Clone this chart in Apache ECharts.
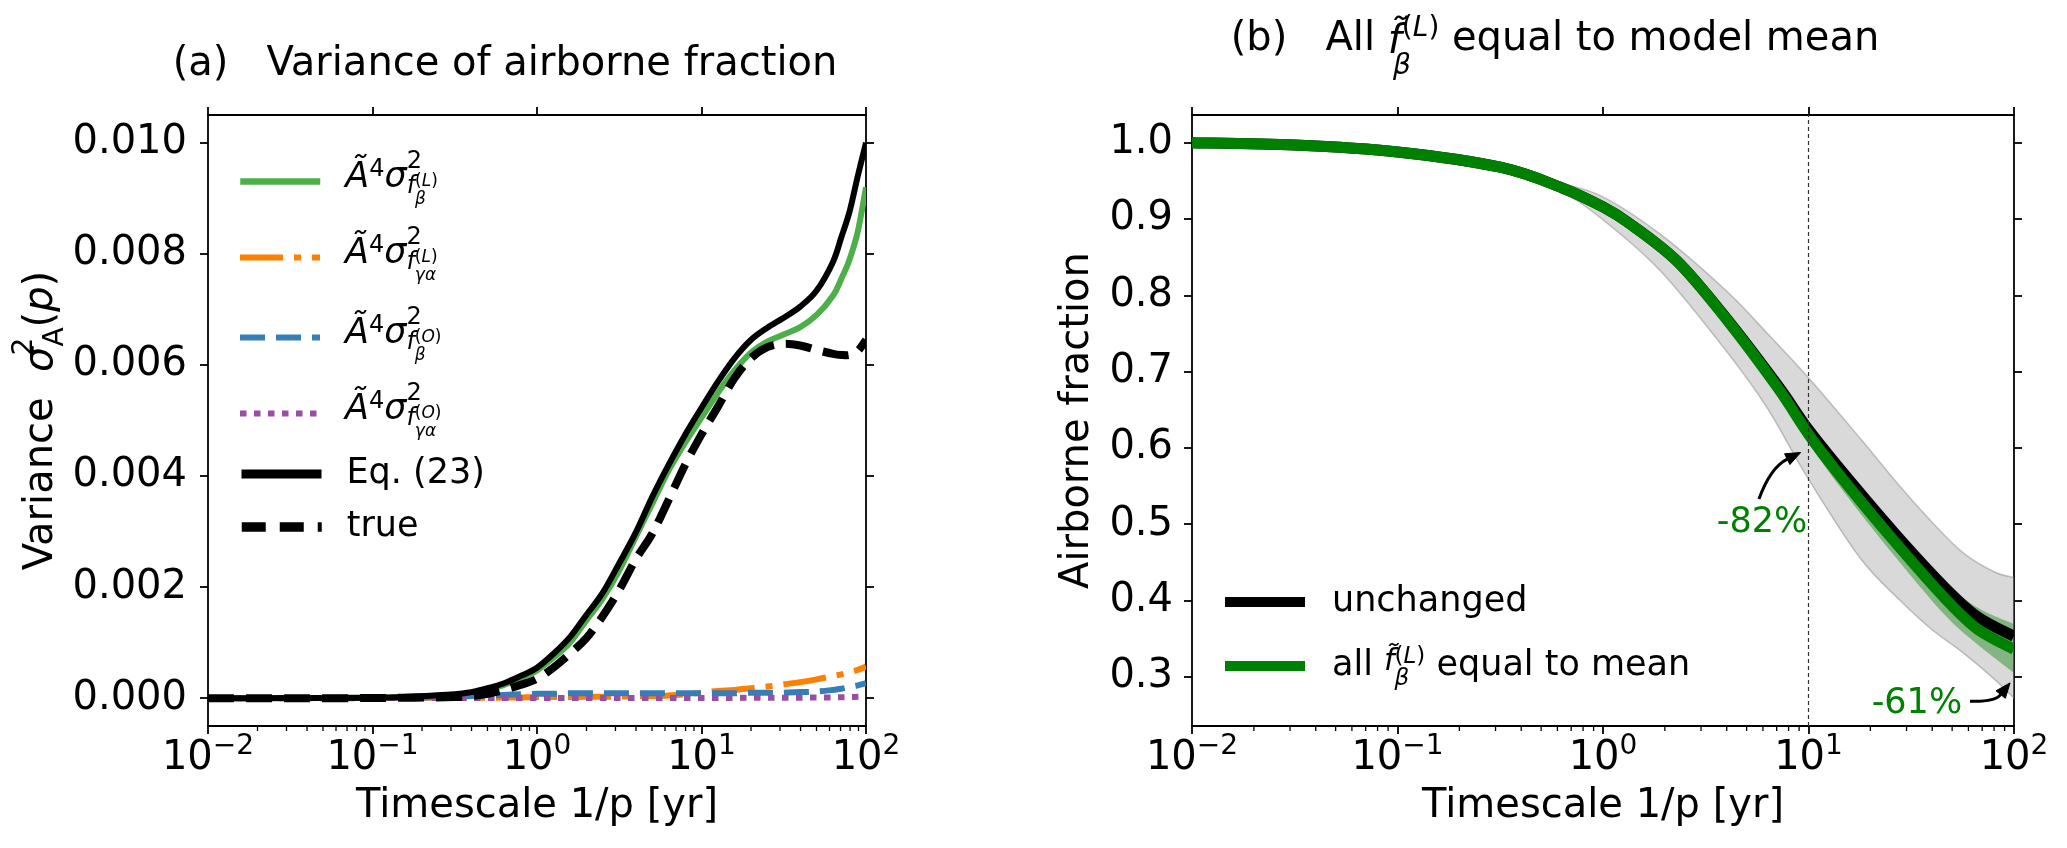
<!DOCTYPE html>
<html><head><meta charset="utf-8">
<script src="https://cdn.jsdelivr.net/npm/echarts@6/dist/echarts.min.js"></script>
<style>html,body{margin:0;padding:0;background:#fff}#c{width:2067px;height:848px}</style>
</head><body><div id="c"></div>
<script>
const FONT = 'DejaVu Sans';

// ---------- Panel (a): variance of airborne fraction ----------
const aLogX   = [-2, -1.5, -1, -0.75, -0.5, -0.4, -0.3, -0.2, -0.1, 0, 0.1, 0.2, 0.3, 0.4, 0.5, 0.6, 0.7, 0.8, 0.9, 1.0, 1.1, 1.2, 1.3, 1.4, 1.5, 1.6, 1.7, 1.8, 1.85, 1.9, 1.95, 2.0];
const aLbeta  = [0, 0.000002, 0.000008, 0.00003, 0.00006, 0.0001, 0.00016, 0.00024, 0.00036, 0.0005, 0.00073, 0.001, 0.0014, 0.0018, 0.0023, 0.0029, 0.0035, 0.0041, 0.0046, 0.00505, 0.0055, 0.0059, 0.00622, 0.00642, 0.00655, 0.00668, 0.0069, 0.00725, 0.00755, 0.0079, 0.0084, 0.0092];
const aLgamma = [0, 0.000003, 0.000005, 0.000008, 0.00001, 0.00001, 0.00001, 0.000012, 0.000015, 0.00002, 0.00002, 0.000022, 0.000025, 0.000028, 0.00003, 0.000035, 0.00004, 0.00005, 0.00007, 0.0001, 0.00013, 0.00015, 0.00018, 0.00021, 0.00025, 0.00029, 0.00034, 0.0004, 0.00043, 0.00047, 0.00051, 0.00057];
const aObeta  = [0, 0.000002, 0.000005, 0.00001, 0.00003, 0.00004, 0.00005, 0.00006, 0.00007, 0.00008, 0.00008, 0.00009, 0.00009, 0.00009, 0.00009, 0.00009, 0.00009, 0.00009, 0.00009, 0.00009, 0.00009, 0.00009, 0.0001, 0.0001, 0.0001, 0.00011, 0.00012, 0.00015, 0.00017, 0.0002, 0.00023, 0.00027];
const aOgamma = [0, 0, 0.000002, 0.000003, 0.000004, 0.000005, 0.000005, 0.000005, 0.000005, 0.000005, 0.000005, 0.000005, 0.000005, 0.000005, 0.000005, 0.000005, 0.000005, 0.000005, 0.000005, 0.000005, 0.000005, 0.000006, 0.000007, 0.000008, 0.000009, 0.00001, 0.000012, 0.000015, 0.000018, 0.00002, 0.000025, 0.00003];
const aEq23   = [0, 0.000002, 0.000008, 0.00003, 0.00007, 0.00011, 0.00018, 0.00027, 0.0004, 0.00055, 0.0008, 0.0011, 0.0015, 0.0019, 0.00243, 0.00298, 0.00362, 0.0042, 0.00474, 0.00523, 0.0057, 0.00612, 0.00645, 0.00667, 0.00685, 0.00705, 0.00734, 0.00786, 0.0083, 0.00876, 0.0094, 0.0100];
const aTrue   = [0, 0, 0.000003, 0.00001, 0.00002, 0.00004, 0.00008, 0.00015, 0.00024, 0.00035, 0.00055, 0.0008, 0.00108, 0.00148, 0.00195, 0.0025, 0.00296, 0.00357, 0.0042, 0.00475, 0.00525, 0.00576, 0.00612, 0.00632, 0.00638, 0.00635, 0.00627, 0.0062, 0.00618, 0.00618, 0.00625, 0.00645];
const aYTicks = [0, 0.002, 0.004, 0.006, 0.008, 0.010];

// ---------- Panel (b): airborne fraction ----------
const bLogX       = [-2, -1.5, -1, -0.5, -0.2, 0, 0.12, 0.36, 0.6, 0.85, 1.0, 1.17, 1.42, 1.66, 1.82, 2.0];
const bUnchanged  = [1.0, 0.997, 0.988, 0.968, 0.941, 0.916, 0.896, 0.845, 0.770, 0.682, 0.624, 0.567, 0.488, 0.418, 0.379, 0.353];
const bAllMean    = [1.0, 0.997, 0.988, 0.968, 0.941, 0.916, 0.896, 0.845, 0.769, 0.679, 0.618, 0.558, 0.477, 0.404, 0.363, 0.336];
const bAllMeanLo  = [1.0, 0.997, 0.988, 0.967, 0.940, 0.914, 0.893, 0.840, 0.762, 0.670, 0.606, 0.543, 0.458, 0.382, 0.343, 0.305];
const bAllMeanHi  = [1.0, 0.997, 0.988, 0.969, 0.942, 0.918, 0.899, 0.850, 0.776, 0.689, 0.630, 0.573, 0.496, 0.426, 0.391, 0.369];
const gLogX       = [-2, -1.5, -1, -0.5, -0.2, 0, 0.28, 0.6, 0.8, 1.0, 1.25, 1.45, 1.6, 1.75, 1.9, 2.0];
const gSpreadLo   = [1.0, 0.996, 0.987, 0.964, 0.935, 0.899, 0.832, 0.727, 0.652, 0.559, 0.456, 0.399, 0.362, 0.332, 0.298, 0.272];
const gSpreadHi   = [1.0, 0.997, 0.989, 0.971, 0.947, 0.929, 0.880, 0.806, 0.750, 0.692, 0.613, 0.548, 0.503, 0.463, 0.438, 0.430];
const bYTicks = [0.3, 0.4, 0.5, 0.6, 0.7, 0.8, 0.9, 1.0];
const vLineX = 10;
const annotations = [
  {label: '-82%', textX: 5.94, textY: 0.502, tailX: 5.74, tailY: 0.533, tipX: 9.16, tipY: 0.594, rad: 0.2},
  {label: '-61%', textX: 33.7, textY: 0.265, tailX: 61.1, tailY: 0.268, tipX: 95.7, tipY: 0.292, rad: -0.25}
];

const minorMult = [2, 3, 4, 5, 6, 7, 8, 9];
const minorDecades = [0.01, 0.1, 1, 10];
const minorTicks = [];
minorDecades.forEach(d => minorMult.forEach(m => minorTicks.push(m * d)));

const tok = (size, o) => Object.assign({fontSize: size, fontFamily: FONT, color: '#000', lineHeight: 50}, o || {});
const legRichA = {
  sp: tok(35, {width: 20}),
  n: tok(35),
  mi: tok(35, {fontStyle: 'italic', padding: [0, 0, 8, 0]}),
  s4: tok(24, {padding: [0, 0, 23, 0]}),
  s2: tok(24, {padding: [0, 0, 39, 0], width: 0}),
  sf: tok(24, {fontStyle: 'italic', padding: [10, 0, 0, 0]}),
  ssb: tok(17, {fontStyle: 'italic', padding: [37, 0, 0, 0], width: 0}),
  ssp: tok(17, {padding: [1, 0, 0, 0]}),
  sspi: tok(17, {fontStyle: 'italic', padding: [1, 0, 0, 0]})
};
const legRichB = {
  sp: tok(35, {width: 22}),
  n: tok(35),
  fi: tok(30, {fontStyle: 'italic', padding: [0, 0, 7, 0]}),
  bsb: tok(23, {fontStyle: 'italic', padding: [27, 0, 0, 0], width: 0}),
  bsp: tok(23, {padding: [0, 0, 17, 0]}),
  bspi: tok(23, {fontStyle: 'italic', padding: [0, 0, 17, 0]})
};
const mathA = (sub, sup) => '{sp| }{mi|Ã}{s4|4}{mi|σ}{s2|2}{sf|f}{ssb|' + sub + '}{ssp|(}{sspi|' + sup + '}{ssp|)}';
const legendText = {
  Lbeta: mathA('β', 'L'),
  Lgamma: mathA('γα', 'L'),
  Obeta: mathA('β', 'O'),
  Ogamma: mathA('γα', 'O'),
  Eq23: '{sp| }{n|Eq. (23)}',
  truev: '{sp| }{n|true}',
  unchanged: '{sp| }{n|unchanged}',
  allmean: '{sp| }{n|all }{fi|f̃}{bsb|β}{bsp|(}{bspi|L}{bsp|)}{n| equal to mean}'
};

function mkLegend(name, left, cy, color, width, type, rich) {
  return {
    data: [name], left: left, top: cy - 25, orient: 'horizontal', padding: 0,
    itemWidth: 80, itemHeight: 50, selectedMode: false,
    formatter: n => legendText[n],
    textStyle: {fontSize: 35, fontFamily: FONT, color: '#000', lineHeight: 50, rich: rich},
    itemStyle: {opacity: 0},
    lineStyle: {color: color, width: width, type: type, opacity: 1}
  };
}

const axisLineStyle = {color: '#000', width: 1.8};
const xLabel = {
  margin: 13, showMinLabel: true, showMaxLabel: true,
  formatter: v => { const e = Math.round(Math.log10(v)); return '{b|10}{s|' + (e < 0 ? '\u2212' + (-e) : e) + '}'; },
  rich: {
    b: {fontSize: 40, fontFamily: FONT, color: '#000', lineHeight: 40},
    s: {fontSize: 28, fontFamily: FONT, color: '#000', lineHeight: 40, padding: [0, 0, 25, 0]}
  }
};
function xAxes(gi) {
  return [
    {gridIndex: gi, type: 'log', logBase: 10, min: 0.01, max: 100, position: 'bottom',
     axisLine: {show: true, onZero: false, lineStyle: axisLineStyle},
     axisTick: {show: true, inside: false, length: 8, lineStyle: {color: '#000', width: 1.8}},
     axisLabel: xLabel, splitLine: {show: false},
     name: 'Timescale 1/p [yr]', nameLocation: 'middle', nameGap: 61, nameMoveOverlap: false,
     nameTextStyle: {fontSize: 40, fontFamily: FONT, color: '#000', lineHeight: 40}},
    {gridIndex: gi, type: 'log', logBase: 10, min: 0.01, max: 100, position: 'top',
     axisLine: {show: true, onZero: false, lineStyle: axisLineStyle},
     axisTick: {show: true, inside: false, length: 8, lineStyle: {color: '#000', width: 1.8}},
     axisLabel: {show: false}, splitLine: {show: false}}
  ];
}
function yRight(gi, min, max, ticks) {
  return {gridIndex: gi, type: 'value', min: min, max: max, position: 'right',
    axisLine: {show: true, onZero: false, lineStyle: axisLineStyle},
    axisTick: {show: true, inside: false, length: 8, customValues: ticks, lineStyle: {color: '#000', width: 1.8}},
    axisLabel: {show: false}, splitLine: {show: false}};
}
const aYMin = -0.0005, aYMax = 0.0105, bYMin = 0.2355, bYMax = 1.0364;

function minorTickSeries(xi, yi, yMin) {
  return {type: 'custom', xAxisIndex: xi, yAxisIndex: yi, silent: true, clip: false, z: 3, animation: false,
    data: minorTicks.map(v => [v, yMin]),
    renderItem: (params, api) => {
      const p = api.coord([api.value(0), api.value(1)]);
      return {type: 'line', shape: {x1: p[0], y1: p[1], x2: p[0], y2: p[1] + 5}, style: {stroke: '#000', lineWidth: 1.3}};
    }};
}
// Catmull-Rom spline through pixel points -> SVG path segments
function crSegs(P) {
  let d = '';
  for (let i = 0; i < P.length - 1; i++) {
    const p0 = P[i - 1] || P[i], p1 = P[i], p2 = P[i + 1], p3 = P[i + 2] || P[i + 1];
    const c1x = p1[0] + (p2[0] - p0[0]) / 6, c1y = p1[1] + (p2[1] - p0[1]) / 6;
    const c2x = p2[0] - (p3[0] - p1[0]) / 6, c2y = p2[1] - (p3[1] - p1[1]) / 6;
    d += ' C' + c1x.toFixed(2) + ' ' + c1y.toFixed(2) + ' ' + c2x.toFixed(2) + ' ' + c2y.toFixed(2) + ' ' + p2[0].toFixed(2) + ' ' + p2[1].toFixed(2);
  }
  return d;
}
// Smooth curve series: an (invisible-data) line series carries the name/legend style,
// the drawn curve is a custom path through the axis scales.
function curveSeries(name, gi, lx, ys, color, width, dash) {
  return {type: 'custom', name: name, xAxisIndex: gi, yAxisIndex: gi, silent: true, clip: true, animation: false,
    data: [[Math.pow(10, lx[0]), ys[0]]],
    renderItem: (params, api) => {
      const P = lx.map((e, i) => api.coord([Math.pow(10, e), ys[i]]));
      const d = 'M' + P[0][0].toFixed(2) + ' ' + P[0][1].toFixed(2) + crSegs(P);
      return {type: 'path', shape: {pathData: d},
        style: {fill: null, stroke: color, lineWidth: width, lineDash: dash || null, lineCap: 'butt', lineJoin: 'round'}};
    }};
}
function legendCarrier(name, gi, color, width, type) {
  return {name: name, type: 'line', xAxisIndex: gi, yAxisIndex: gi, data: [], showSymbol: false, symbol: 'none',
    silent: true, animation: false, color: color, lineStyle: {color: color, width: width, type: type}, itemStyle: {color: color}};
}
function bandSeries(lx, lo, hi, fill, stroke, lw) {
  return {type: 'custom', xAxisIndex: 2, yAxisIndex: 2, silent: true, clip: true, animation: false,
    data: [[Math.pow(10, lx[0]), lo[0]]],
    renderItem: (params, api) => {
      const up = lx.map((e, i) => api.coord([Math.pow(10, e), hi[i]]));
      const dn = lx.map((e, i) => api.coord([Math.pow(10, e), lo[i]])).reverse();
      const d = 'M' + up[0][0].toFixed(2) + ' ' + up[0][1].toFixed(2) + crSegs(up) +
                ' L' + dn[0][0].toFixed(2) + ' ' + dn[0][1].toFixed(2) + crSegs(dn) + ' Z';
      return {type: 'path', shape: {pathData: d}, style: {fill: fill, stroke: stroke, lineWidth: lw}};
    }};
}

const series = [
  // legend carriers (no data)
  legendCarrier('Lbeta', 0, '#4daf4a', 6, 'solid'),
  legendCarrier('Lgamma', 0, '#ff7f00', 6, [43, 11, 7, 11]),
  legendCarrier('Obeta', 0, '#377eb8', 6, [25, 11]),
  legendCarrier('Ogamma', 0, '#984ea3', 6, [6.5, 7.5]),
  legendCarrier('Eq23', 0, '#000000', 6, 'solid'),
  legendCarrier('truev', 0, '#000000', 8, [26, 12]),
  legendCarrier('unchanged', 2, '#000000', 11, 'solid'),
  legendCarrier('allmean', 2, '#008000', 11, 'solid'),
  // panel a curves
  curveSeries('Lbeta_c', 0, aLogX, aLbeta, '#4daf4a', 6),
  curveSeries('Lgamma_c', 0, aLogX, aLgamma, '#ff7f00', 6, [43, 11, 7, 11]),
  curveSeries('Obeta_c', 0, aLogX, aObeta, '#377eb8', 6, [25, 11]),
  curveSeries('Ogamma_c', 0, aLogX, aOgamma, '#984ea3', 6, [6.5, 7.5]),
  curveSeries('Eq23_c', 0, aLogX, aEq23, '#000000', 6),
  curveSeries('true_c', 0, aLogX, aTrue, '#000000', 8, [26, 12]),
  minorTickSeries(0, 0, aYMin),
  // panel b
  bandSeries(gLogX, gSpreadLo, gSpreadHi, 'rgba(128,128,128,0.3)', 'rgba(128,128,128,0.45)', 1.5),
  bandSeries(bLogX, bAllMeanLo, bAllMeanHi, 'rgba(0,128,0,0.4)', null, 0),
  curveSeries('unchanged_c', 2, bLogX, bUnchanged, '#000000', 11),
  curveSeries('allmean_c', 2, bLogX, bAllMean, '#008000', 11),
  {type: 'line', xAxisIndex: 2, yAxisIndex: 2, data: [], silent: true, animation: false, z: 4,
   markLine: {silent: true, symbol: ['none', 'none'], label: {show: false}, animation: false,
     lineStyle: {color: '#333', width: 1.2, type: [4, 3]}, emphasis: {disabled: true},
     data: [{xAxis: vLineX}]}},
  minorTickSeries(2, 2, bYMin),
  {type: 'custom', xAxisIndex: 2, yAxisIndex: 2, silent: true, clip: false, z: 10, animation: false,
   data: annotations.map(a => [a.tipX, a.tipY]),
   renderItem: (params, api) => {
     const a = annotations[params.dataIndex];
     const tail = api.coord([a.tailX, a.tailY]);
     const tip = api.coord([a.tipX, a.tipY]);
     const tp = api.coord([a.textX, a.textY]);
     const mx = (tail[0] + tip[0]) / 2, my = (tail[1] + tip[1]) / 2;
     const dx = tip[0] - tail[0], dy = tip[1] - tail[1];
     const cx = mx + a.rad * dy, cy = my - a.rad * dx;
     const ang = Math.atan2(tip[1] - cy, tip[0] - cx);
     const L = 15, W = 6;
     const bx = tip[0] - L * Math.cos(ang), by = tip[1] - L * Math.sin(ang);
     const p1 = [bx + W * Math.sin(ang), by - W * Math.cos(ang)];
     const p2 = [bx - W * Math.sin(ang), by + W * Math.cos(ang)];
     return {type: 'group', children: [
       {type: 'bezierCurve', shape: {x1: tail[0], y1: tail[1], x2: bx, y2: by, cpx1: cx, cpy1: cy},
        style: {stroke: '#000', lineWidth: 3, fill: null}},
       {type: 'polygon', shape: {points: [tip, p1, p2]}, style: {fill: '#000', stroke: '#000', lineWidth: 1}},
       {type: 'text', style: {text: a.label, x: tp[0], y: tp[1], fill: '#008000', fontSize: 35, fontFamily: FONT,
        align: 'center', verticalAlign: 'middle'}}
     ]};
   }}
];

const titleBRich = {
  n: {fontSize: 40, fontFamily: FONT, fill: '#000', lineHeight: 40},
  fi: {fontSize: 40, fontFamily: FONT, fontStyle: 'italic', fill: '#000', lineHeight: 40, padding: [6, 0, 0, 0]},
  tsb: {fontSize: 28, fontFamily: FONT, fontStyle: 'italic', fill: '#000', lineHeight: 40, padding: [54, 0, 0, 0], width: 0},
  tsp: {fontSize: 28, fontFamily: FONT, fill: '#000', lineHeight: 40, padding: [0, 0, 22, 0]},
  tspi: {fontSize: 28, fontFamily: FONT, fontStyle: 'italic', fill: '#000', lineHeight: 40, padding: [0, 0, 22, 0]}
};

const option = {
  animation: false,
  backgroundColor: '#ffffff',
  textStyle: {fontFamily: FONT},
  grid: [
    {left: 208, top: 115, width: 658, height: 611, containLabel: false, outerBoundsMode: 'none'},
    {left: 1192, top: 115, width: 822, height: 611, containLabel: false, outerBoundsMode: 'none'}
  ],
  xAxis: xAxes(0).concat(xAxes(1)),
  yAxis: [
    {gridIndex: 0, type: 'value', min: aYMin, max: aYMax, position: 'left',
     axisLine: {show: true, onZero: false, lineStyle: axisLineStyle},
     axisTick: {show: true, inside: false, length: 8, customValues: aYTicks, lineStyle: {color: '#000', width: 1.8}},
     axisLabel: {customValues: aYTicks, margin: 21, fontSize: 40, fontFamily: FONT, color: '#000', formatter: v => v.toFixed(3)},
     splitLine: {show: false},
     name: '{n|Variance  }{mi|σ}{s2|2}{sb|A}{n|(}{mi|p}{n|)}', nameLocation: 'middle', nameGap: 146, nameMoveOverlap: false,
     nameTextStyle: {fontSize: 40, fontFamily: FONT, color: '#000', lineHeight: 40, rich: {
       n: {fontSize: 40, fontFamily: FONT, color: '#000', lineHeight: 40},
       mi: {fontSize: 40, fontFamily: FONT, fontStyle: 'italic', color: '#000', lineHeight: 40},
       s2: {fontSize: 28, fontFamily: FONT, color: '#000', lineHeight: 40, padding: [0, 0, 34, 0], width: 0},
       sb: {fontSize: 28, fontFamily: FONT, color: '#000', lineHeight: 40, padding: [28, 0, 0, 0]}
     }}},
    yRight(0, aYMin, aYMax, aYTicks),
    {gridIndex: 1, type: 'value', min: bYMin, max: bYMax, position: 'left',
     axisLine: {show: true, onZero: false, lineStyle: axisLineStyle},
     axisTick: {show: true, inside: false, length: 8, customValues: bYTicks, lineStyle: {color: '#000', width: 1.8}},
     axisLabel: {customValues: bYTicks, margin: 19, fontSize: 40, fontFamily: FONT, color: '#000', formatter: v => v.toFixed(1)},
     splitLine: {show: false},
     name: 'Airborne fraction', nameLocation: 'middle', nameGap: 94, nameMoveOverlap: false,
     nameTextStyle: {fontSize: 40, fontFamily: FONT, color: '#000', lineHeight: 40}},
    yRight(1, bYMin, bYMax, bYTicks)
  ],
  legend: [
    mkLegend('Lbeta', 237, 175, '#4daf4a', 6.5, 'solid', legRichA),
    mkLegend('Lgamma', 237, 251, '#ff7f00', 6, [43, 11, 7, 11], legRichA),
    mkLegend('Obeta', 237, 331, '#377eb8', 6, [25, 11], legRichA),
    mkLegend('Ogamma', 237, 407, '#984ea3', 6, [6.5, 7.5], legRichA),
    mkLegend('Eq23', 237, 474, '#000000', 9, 'solid', legRichA),
    mkLegend('truev', 237, 527, '#000000', 9.5, [24, 14], legRichA),
    mkLegend('unchanged', 1220, 602, '#000000', 10, 'solid', legRichB),
    mkLegend('allmean', 1220, 666, '#008000', 10, 'solid', legRichB)
  ],
  graphic: [
    {type: 'text', x: 505, y: 64.6, silent: true,
     style: {text: '(a)   Variance of airborne fraction', fontSize: 40, fontFamily: FONT, fill: '#000', align: 'center', verticalAlign: 'middle'}},
    {type: 'text', x: 1555, y: 40, silent: true,
     style: {text: '{n|(b)   All }{fi|f̃}{tsb|β}{tsp|(}{tspi|L}{tsp|)}{n| equal to model mean}', rich: titleBRich,
       fontSize: 40, fontFamily: FONT, fill: '#000', align: 'center', verticalAlign: 'middle'}}
  ],
  series: series
};

const chart = echarts.init(document.getElementById('c'), null, {renderer: 'canvas'});
chart.setOption(option);
</script>
</body></html>
